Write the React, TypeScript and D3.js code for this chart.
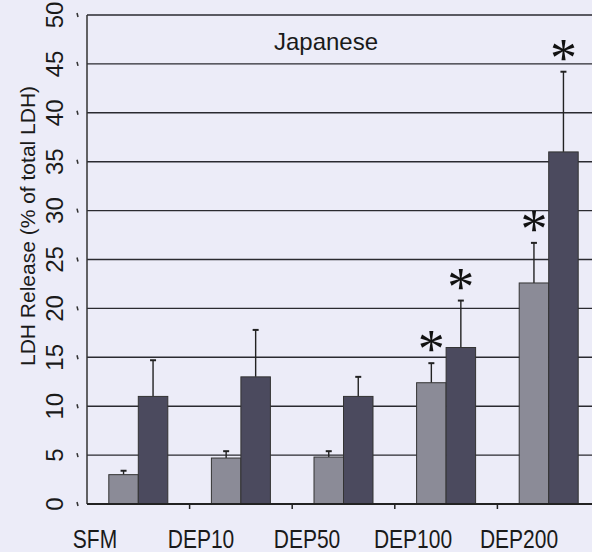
import * as d3 from "d3";
import React, { useEffect, useRef } from "react";

const categories = ["SFM", "DEP10", "DEP50", "DEP100", "DEP200"];
const lightValues = [3.0, 4.7, 4.8, 12.4, 22.6];
const lightErrors = [0.4, 0.7, 0.6, 2.0, 4.1];
const darkValues = [11.0, 13.0, 11.0, 16.0, 36.0];
const darkErrors = [3.7, 4.8, 2.0, 4.8, 8.2];
const lightStars = [false, false, false, true, true];
const darkStars = [false, false, false, true, true];
const yTicks = [0, 5, 10, 15, 20, 25, 30, 35, 40, 45, 50];

const App: React.FC = () => {
  const ref = useRef<SVGSVGElement>(null);

  useEffect(() => {
    if (!ref.current) return;
    const svg = d3.select(ref.current);
    svg.selectAll("*").remove();

    const W = 592;
    const H = 552;
    const left = 87;
    const right = 600;
    const top = 15;
    const bottom = 504;
    const font = "'Liberation Sans', Arial, sans-serif";

    svg.append("rect").attr("width", W).attr("height", H).attr("fill", "#ececf8");

    const x = d3.scaleBand().domain(categories).range([left, right]).padding(0);
    const y = d3.scaleLinear().domain([0, 50]).range([bottom, top]);
    const barW = 29.5;
    const x1 = d3
      .scaleBand()
      .domain(["light", "dark"])
      .range([x.bandwidth() / 2 - barW, x.bandwidth() / 2 + barW])
      .padding(0);

    // gridlines
    svg
      .append("g")
      .selectAll("line")
      .data(yTicks.filter((t) => t > 0))
      .enter()
      .append("line")
      .attr("x1", left)
      .attr("x2", W)
      .attr("y1", (d) => y(d))
      .attr("y2", (d) => y(d))
      .attr("stroke", "#2a2a30")
      .attr("stroke-width", 1.4);

    // y tick labels (rotated)
    svg
      .append("g")
      .selectAll("text")
      .data(yTicks)
      .enter()
      .append("text")
      .attr("transform", (d) => `translate(63,${y(d)}) rotate(-90)`)
      .attr("text-anchor", "middle")
      .attr("font-family", font)
      .attr("font-size", 24)
      .attr("fill", "#1a1a1a")
      .text((d) => d);

    // small tick stubs left of axis
    svg
      .append("g")
      .selectAll("line")
      .data(yTicks)
      .enter()
      .append("line")
      .attr("x1", 77)
      .attr("x2", 78)
      .attr("y1", (d) => y(d) - 2)
      .attr("y2", (d) => y(d) + 2)
      .attr("stroke", "#333")
      .attr("stroke-width", 1.5);

    // y axis title
    svg
      .append("text")
      .attr("transform", `translate(35,226) rotate(-90)`)
      .attr("text-anchor", "middle")
      .attr("font-family", font)
      .attr("font-size", 21)
      .attr("fill", "#1a1a1a")
      .text("LDH Release (% of total LDH)");

    const series = [
      { key: "light", values: lightValues, errors: lightErrors, stars: lightStars, fill: "#8b8b97" },
      { key: "dark", values: darkValues, errors: darkErrors, stars: darkStars, fill: "#4b4a5e" },
    ];

    series.forEach((s) => {
      const g = svg.append("g");
      const data = categories.map((c, i) => ({
        c,
        v: s.values[i],
        e: s.errors[i],
        star: s.stars[i],
      }));
      const bx = (d: { c: string }) => (x(d.c) || 0) + (x1(s.key) || 0);
      const cx = (d: { c: string }) => bx(d) + x1.bandwidth() / 2;

      // error bars
      g.selectAll(".err")
        .data(data)
        .enter()
        .append("line")
        .attr("x1", cx)
        .attr("x2", cx)
        .attr("y1", (d) => y(d.v))
        .attr("y2", (d) => y(d.v + d.e))
        .attr("stroke", "#222")
        .attr("stroke-width", 1.4);
      g.selectAll(".cap")
        .data(data)
        .enter()
        .append("line")
        .attr("x1", (d) => cx(d) - 3)
        .attr("x2", (d) => cx(d) + 3)
        .attr("y1", (d) => y(d.v + d.e))
        .attr("y2", (d) => y(d.v + d.e))
        .attr("stroke", "#222")
        .attr("stroke-width", 2);

      g.selectAll("rect")
        .data(data)
        .enter()
        .append("rect")
        .attr("x", bx)
        .attr("y", (d) => y(d.v))
        .attr("width", x1.bandwidth())
        .attr("height", (d) => bottom - y(d.v))
        .attr("fill", s.fill)
        .attr("stroke", "#333")
        .attr("stroke-width", 1);

      g.selectAll(".star")
        .data(data.filter((d) => d.star))
        .enter()
        .append("text")
        .attr("x", cx)
        .attr("y", (d) => y(d.v + d.e) + 4)
        .attr("text-anchor", "middle")
        .attr("font-family", "'Liberation Serif', serif")
        .attr("font-size", 54)
        .attr("fill", "#111")
        .text("*");
    });

    // axes lines
    svg
      .append("line")
      .attr("x1", left)
      .attr("x2", left)
      .attr("y1", top)
      .attr("y2", bottom)
      .attr("stroke", "#333")
      .attr("stroke-width", 1.5);
    svg
      .append("line")
      .attr("x1", left)
      .attr("x2", W)
      .attr("y1", bottom)
      .attr("y2", bottom)
      .attr("stroke", "#222")
      .attr("stroke-width", 1.8);
    svg
      .append("g")
      .selectAll("line")
      .data(categories.slice(1))
      .enter()
      .append("line")
      .attr("x1", (d) => x(d) || 0)
      .attr("x2", (d) => x(d) || 0)
      .attr("y1", bottom)
      .attr("y2", bottom + 5)
      .attr("stroke", "#222")
      .attr("stroke-width", 1.5);

    // category labels
    const lx = d3.scalePoint().domain(categories).range([95, 519]);
    svg
      .append("g")
      .selectAll("text")
      .data(categories)
      .enter()
      .append("text")
      .attr("transform", (d) => `translate(${lx(d) || 0},548) scale(1,1.2)`)
      .attr("text-anchor", "middle")
      .attr("font-family", font)
      .attr("font-size", 21)
      .attr("fill", "#1a1a1a")
      .text((d) => d);

    svg
      .append("text")
      .attr("x", 326)
      .attr("y", 50)
      .attr("text-anchor", "middle")
      .attr("font-family", font)
      .attr("font-size", 24)
      .attr("fill", "#1a1a1a")
      .text("Japanese");
  }, []);

  return (
    <svg
      ref={ref}
      width={592}
      height={552}
      style={{ position: "absolute", left: 0, top: 0 }}
    />
  );
};

export default App;
